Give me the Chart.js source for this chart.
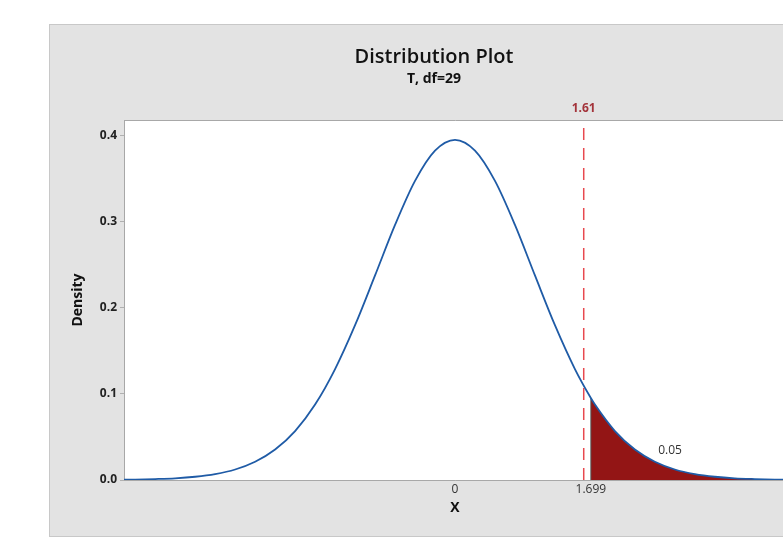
<!DOCTYPE html>
<html>
<head>
<meta charset="utf-8">
<title>Distribution Plot</title>
<script src="https://cdn.jsdelivr.net/npm/chart.js@4.4.0/dist/chart.umd.min.js"></script>
<style>
  html, body { margin: 0; padding: 0; overflow: hidden; background: #fff; }
  #wrap { width: 800px; height: 543px; }
</style>
</head>
<body>
<div id="wrap"><canvas id="distChart" width="800" height="543"></canvas></div>
<script>
// values (T, df=29 density)
const xValues = [-4.25, -4, -3.75, -3.5, -3.25, -3, -2.75, -2.5, -2.25, -2, -1.75, -1.5, -1.25, -1, -0.75, -0.5, -0.25,
  0, 0.25, 0.5, 0.75, 1, 1.25, 1.5, 1.699, 1.75, 2, 2.25, 2.5, 2.75, 3, 3.25, 3.5, 3.75, 4, 4.25];
const densityValues = [0.0003, 0.0005, 0.0011, 0.0020, 0.0038, 0.0069, 0.0122, 0.0212, 0.0354, 0.0569, 0.0877, 0.1290, 0.1800, 0.2379, 0.2966, 0.3478, 0.3830,
  0.3956, 0.3830, 0.3478, 0.2966, 0.2379, 0.1800, 0.1290, 0.0953, 0.0877, 0.0569, 0.0354, 0.0212, 0.0122, 0.0069, 0.0038, 0.0020, 0.0011, 0.0005, 0.0003];
const yTicks = [0, 0.1, 0.2, 0.3, 0.4];
const xTicks = [0, 1.699];
const criticalX = 1.699;
const observedX = 1.61;
const tailArea = 0.05;

const curvePts = xValues.map((x, i) => ({ x: x, y: densityValues[i] }));
const tailPts = curvePts.filter(p => p.x >= criticalX);
const critDensity = densityValues[xValues.indexOf(criticalX)];

const FONT = "'Open Sans', 'Noto Sans', sans-serif";

// background panel, plot area and all the loose text
const decor = {
  id: 'decor',
  beforeDraw(chart) {
    const ctx = chart.ctx;
    const a = chart.chartArea;
    ctx.save();
    ctx.fillStyle = '#ffffff';
    ctx.fillRect(0, 0, chart.width, chart.height);
    ctx.fillStyle = '#e3e3e3';
    ctx.fillRect(49, 24, chart.width, 512);
    ctx.strokeStyle = '#c8c8c8';
    ctx.lineWidth = 1;
    ctx.strokeRect(49.5, 24.5, chart.width, 512);
    ctx.fillStyle = '#ffffff';
    ctx.fillRect(a.left, a.top, a.right - a.left, a.bottom - a.top);
    ctx.strokeStyle = '#a8a8a8';
    ctx.beginPath();
    ctx.moveTo(a.left + 0.5, a.bottom);
    ctx.lineTo(a.left + 0.5, a.top + 0.5);
    ctx.lineTo(a.right, a.top + 0.5);
    ctx.stroke();
    ctx.restore();
  },
  afterDraw(chart) {
    const ctx = chart.ctx;
    const a = chart.chartArea;
    const xs = chart.scales.x;
    const ys = chart.scales.y;
    ctx.save();
    ctx.textAlign = 'center';
    ctx.textBaseline = 'middle';

    ctx.fillStyle = '#111';
    ctx.font = '600 20px ' + FONT;
    ctx.fillText('Distribution Plot', 434, 57);
    ctx.font = '700 14px ' + FONT;
    ctx.fillText('T, df=29', 434, 79);

    ctx.font = '700 14px ' + FONT;
    ctx.fillText('X', xs.getPixelForValue(0), 508);

    ctx.save();
    ctx.translate(78, (a.top + a.bottom) / 2);
    ctx.rotate(-Math.PI / 2);
    ctx.fillText('Density', 0, 0);
    ctx.restore();

    ctx.fillStyle = '#a3333a';
    ctx.font = '700 12px ' + FONT;
    ctx.fillText(String(observedX), xs.getPixelForValue(observedX), a.top - 11);

    ctx.fillStyle = '#333';
    ctx.font = '12px ' + FONT;
    ctx.fillText(String(tailArea), xs.getPixelForValue(2.69), ys.getPixelForValue(0.034));
    ctx.restore();
  }
};

const chartCtx = document.getElementById('distChart').getContext('2d');
new Chart(chartCtx, {
  type: 'line',
  data: {
    datasets: [
      {
        label: 'density',
        data: curvePts,
        borderColor: '#1f5ba6',
        borderWidth: 1.8,
        pointRadius: 0,
        fill: false,
        cubicInterpolationMode: 'monotone'
      },
      {
        label: 'observed',
        data: [{ x: observedX, y: 0 }, { x: observedX, y: 0.42 }],
        borderColor: '#e8494f',
        borderWidth: 1.5,
        borderDash: [12, 8],
        pointRadius: 0,
        fill: false
      },
      {
        label: 'edge',
        data: [{ x: criticalX, y: 0 }, { x: criticalX, y: critDensity }],
        borderColor: '#555555',
        borderWidth: 1,
        pointRadius: 0,
        fill: false
      },
      {
        label: 'tail',
        data: tailPts,
        borderWidth: 0,
        borderColor: '#931515',
        backgroundColor: '#931515',
        pointRadius: 0,
        fill: 'origin',
        cubicInterpolationMode: 'monotone'
      }
    ]
  },
  options: {
    responsive: false,
    animation: false,
    devicePixelRatio: 1,
    layout: { padding: { left: 49, top: 120, right: 14, bottom: 0 } },
    plugins: {
      legend: { display: false },
      tooltip: { enabled: false },
      title: { display: false }
    },
    scales: {
      x: {
        type: 'linear',
        min: -4.14,
        max: 4.14,
        afterBuildTicks: s => { s.ticks = xTicks.map(v => ({ value: v })); },
        afterFit: s => { s.height = 63; },
        ticks: {
          callback: v => String(v),
          font: { family: FONT, size: 12 },
          color: '#333',
          padding: 2,
          maxRotation: 0,
          autoSkip: false
        },
        grid: { drawOnChartArea: false, tickLength: 0 },
        border: { color: '#a8a8a8' }
      },
      y: {
        min: 0,
        max: 0.4186,
        afterBuildTicks: s => { s.ticks = yTicks.map(v => ({ value: v })); },
        afterFit: s => { s.width = 75; },
        ticks: {
          callback: v => v.toFixed(1),
          font: { family: FONT, size: 12, weight: '700' },
          color: '#222',
          padding: 3
        },
        grid: { drawOnChartArea: false, tickLength: 4, color: '#b0b0b0' },
        border: { color: '#a8a8a8' }
      }
    }
  },
  plugins: [decor]
});
</script>
</body>
</html>
